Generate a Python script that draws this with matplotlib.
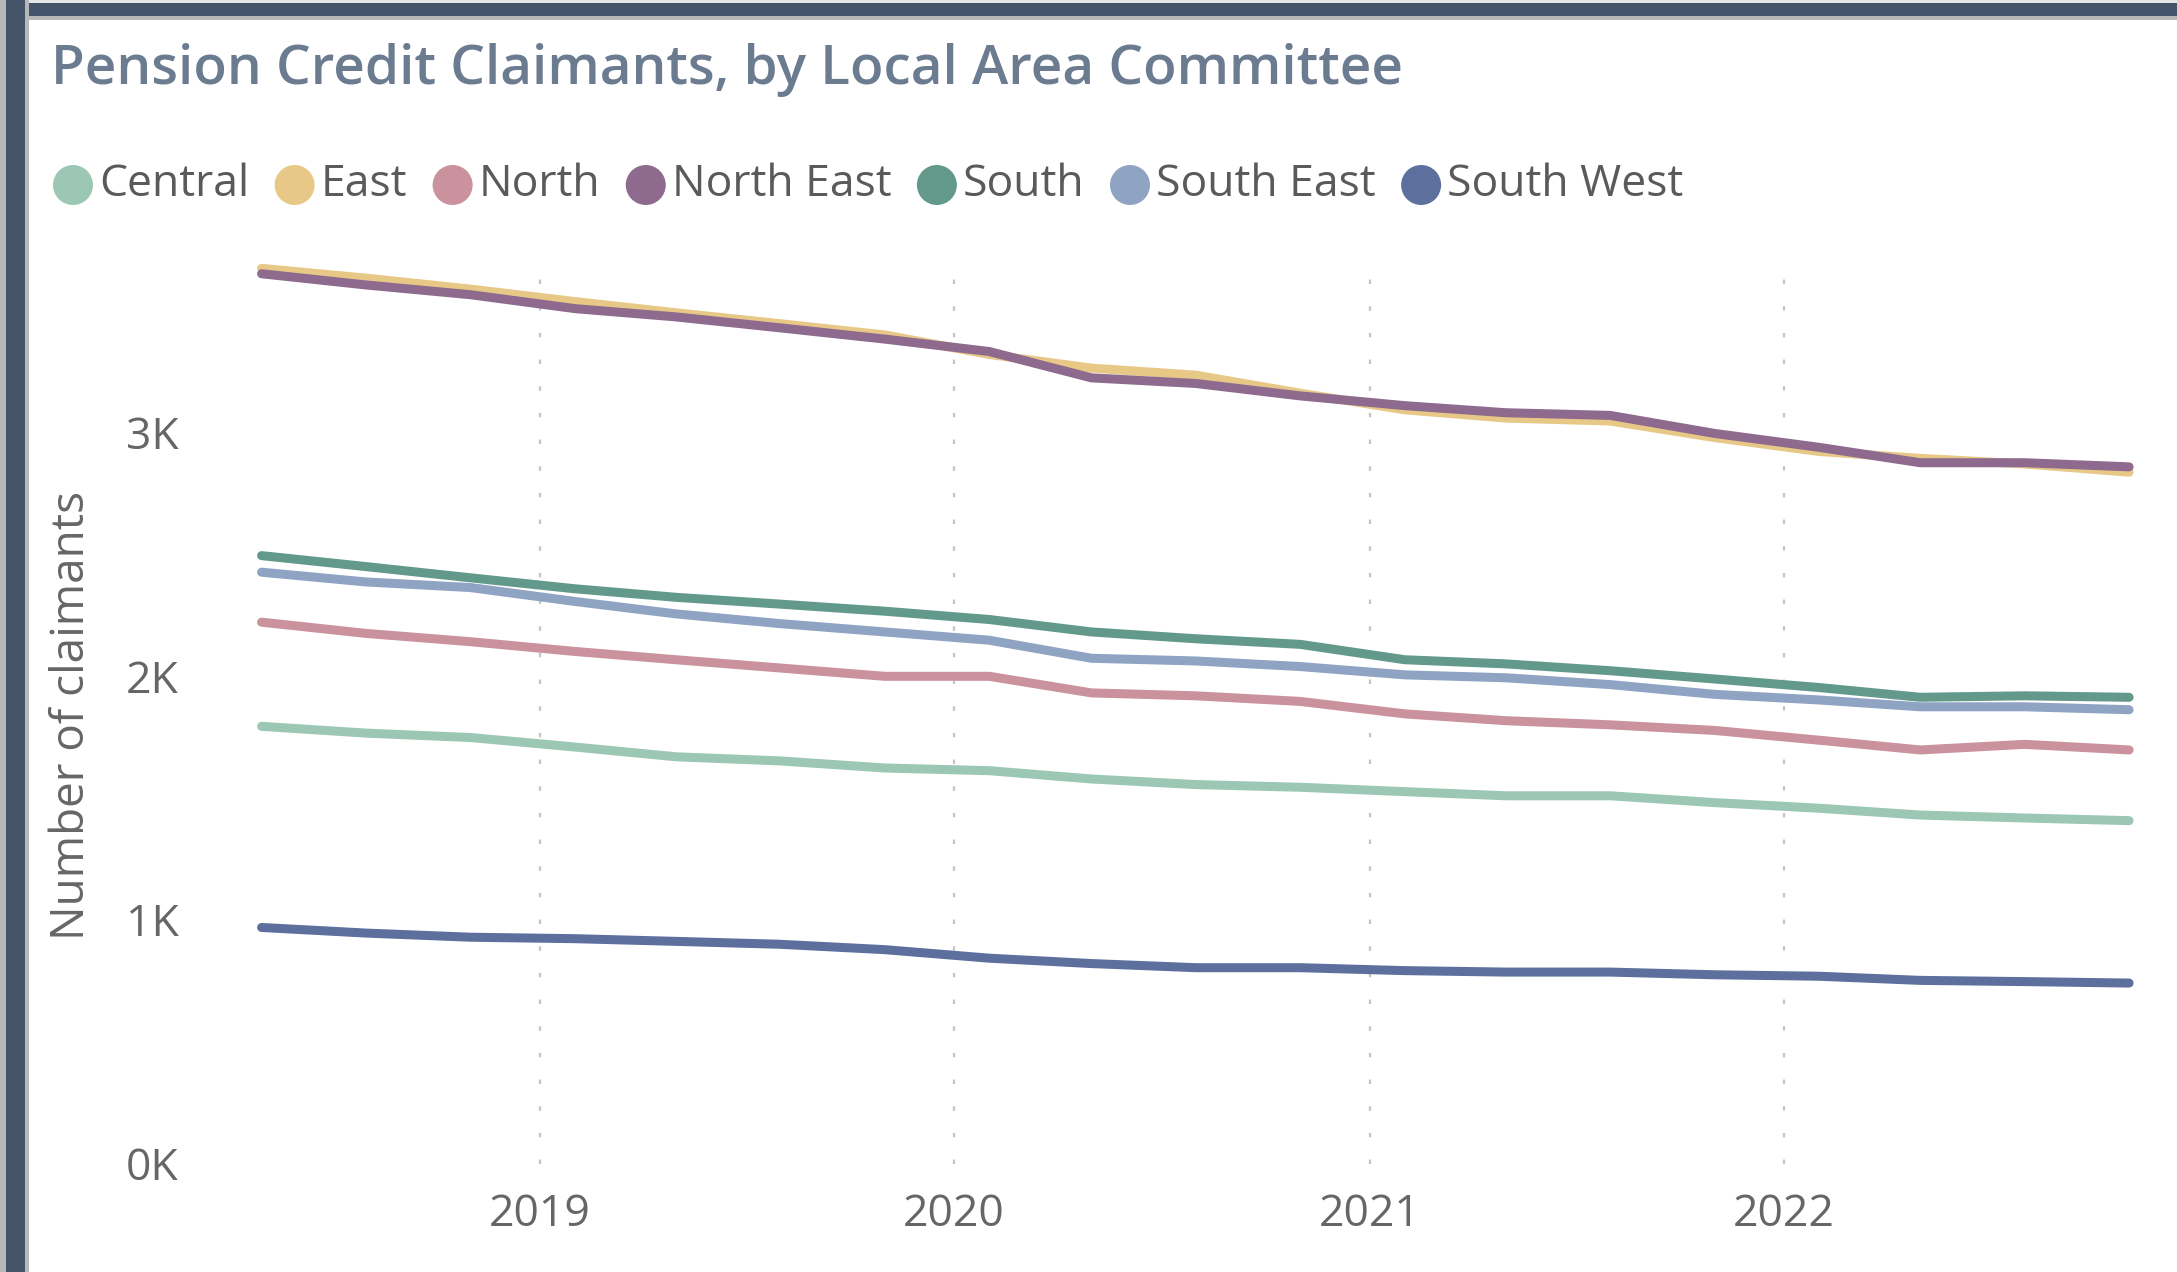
import matplotlib
matplotlib.use("Agg")
import matplotlib.pyplot as plt
import matplotlib.dates as mdates
from matplotlib.patches import Rectangle, Ellipse
from matplotlib.ticker import FixedLocator, FuncFormatter
import pandas as pd

# ---------------- data ----------------
quarters = ["2018-05", "2018-08", "2018-11", "2019-02", "2019-05", "2019-08", "2019-11",
            "2020-02", "2020-05", "2020-08", "2020-11", "2021-02", "2021-05", "2021-08",
            "2021-11", "2022-02", "2022-05", "2022-08", "2022-11"]

central = [1793, 1765, 1747, 1708, 1668, 1651, 1622, 1611, 1577, 1554, 1543, 1525, 1508, 1508,
           1480, 1457, 1429, 1417, 1406]
east = [3671, 3631, 3586, 3535, 3489, 3444, 3398, 3318, 3262, 3233, 3159, 3091, 3057, 3045,
        2977, 2920, 2892, 2869, 2835]
north = [2220, 2174, 2140, 2100, 2066, 2032, 1998, 1998, 1930, 1918, 1895, 1844, 1816, 1799,
         1776, 1736, 1696, 1719, 1696]
north_east = [3649, 3603, 3563, 3506, 3472, 3427, 3381, 3330, 3222, 3199, 3148, 3108, 3079, 3068,
              2994, 2937, 2874, 2874, 2857]
south = [2493, 2448, 2402, 2357, 2322, 2294, 2265, 2231, 2180, 2152, 2129, 2066, 2049, 2021,
         1987, 1952, 1912, 1918, 1912]
south_east = [2425, 2385, 2362, 2305, 2254, 2214, 2180, 2146, 2072, 2061, 2038, 2004, 1992, 1964,
              1924, 1901, 1873, 1873, 1861]
south_west = [968, 945, 928, 922, 911, 899, 877, 842, 820, 803, 803, 791, 785, 785,
              774, 768, 751, 746, 740]

series_names = ["Central", "East", "North", "North East", "South", "South East", "South West"]
series_values = [central, east, north, north_east, south, south_east, south_west]
series_colors = ["#9bc7b4", "#e8c887", "#c9929c", "#8d6a8e", "#62998b", "#8fa3c3", "#5d6f9d"]

y_ticks = [0, 1000, 2000, 3000]
title_text = "Pension Credit Claimants, by Local Area Committee"
y_label = "Number of claimants"

# ---------------- figure ----------------
W, H = 2177, 1272
FONT = ["Open Sans", "DejaVu Sans"]
plt.rcParams["font.family"] = FONT

fig = plt.figure(figsize=(W / 100, H / 100), dpi=100)
fig.patch.set_facecolor("white")

def px_rect(x0, y0, x1, y1, color):
    # rectangle in pixel coords (origin top-left)
    fig.add_artist(Rectangle((x0 / W, 1 - y1 / H), (x1 - x0) / W, (y1 - y0) / H,
                             transform=fig.transFigure, facecolor=color,
                             edgecolor="none", zorder=0))

# frame bars
px_rect(0, 0, W, 19.5, "#b8b8b8")
px_rect(0, 0, W, 2.5, "#e6e6e6")
px_rect(0, 2.5, W, 16, "#44546a")
px_rect(0, 0, 29, H, "#b8b8b8")
px_rect(6, 0, 25, H, "#44546a")

# axes
ax_left, ax_right = 240, 2145
ax_top, ax_bottom = 273.5, 1163.5
ax = fig.add_axes([ax_left / W, 1 - ax_bottom / H, (ax_right - ax_left) / W,
                   (ax_bottom - ax_top) / H])
ax.set_facecolor("none")

dates = pd.to_datetime(quarters)
for name, vals, col in zip(series_names, series_values, series_colors):
    ax.plot(dates, vals, color=col, lw=6.5, solid_capstyle="round",
            solid_joinstyle="round", clip_on=False, label=name)

ax.set_xlim(pd.Timestamp("2018-04-12"), pd.Timestamp("2022-11-15"))
ax.set_ylim(0, 3650)

for s in ax.spines.values():
    s.set_visible(False)

ax.xaxis.set_major_locator(mdates.YearLocator())
ax.xaxis.set_major_formatter(mdates.DateFormatter("%Y"))
ax.yaxis.set_major_locator(FixedLocator(y_ticks))
ax.yaxis.set_major_formatter(FuncFormatter(lambda v, p: f"{int(round(v / 1000))}K"))

ax.tick_params(axis="both", length=0, labelsize=32, labelcolor="#666666")
ax.tick_params(axis="y", pad=44)
ax.tick_params(axis="x", pad=21)

ax.grid(axis="x", color="#c4c4c4", lw=1.6, ls=(0, (2, 10)))
ax.grid(axis="y", visible=False)

ax.set_ylabel(y_label, fontsize=33, color="#666666", va="center")
ax.yaxis.set_label_coords((72 - ax_left) / (ax_right - ax_left), 0.504)

# title
fig.text(51 / W, 1 - 70 / H, title_text, fontsize=39.5, fontweight="semibold",
         color="#6b7b90", va="center", ha="left")

# legend (manual)
fig.canvas.draw()
renderer = fig.canvas.get_renderer()
x = 53
ly = 185
d = 40
for name, col in zip(series_names, series_colors):
    fig.add_artist(Ellipse(((x + d / 2) / W, 1 - ly / H), d / W, d / H,
                           transform=fig.transFigure, facecolor=col, edgecolor="none"))
    t = fig.text((x + d + 6) / W, 1 - ly / H, name, fontsize=32, color="#5a5a5a",
                 va="center", ha="left")
    bb = t.get_window_extent(renderer)
    x = bb.x1 + 25.5

fig.savefig("out.png", dpi=100, facecolor="white")
